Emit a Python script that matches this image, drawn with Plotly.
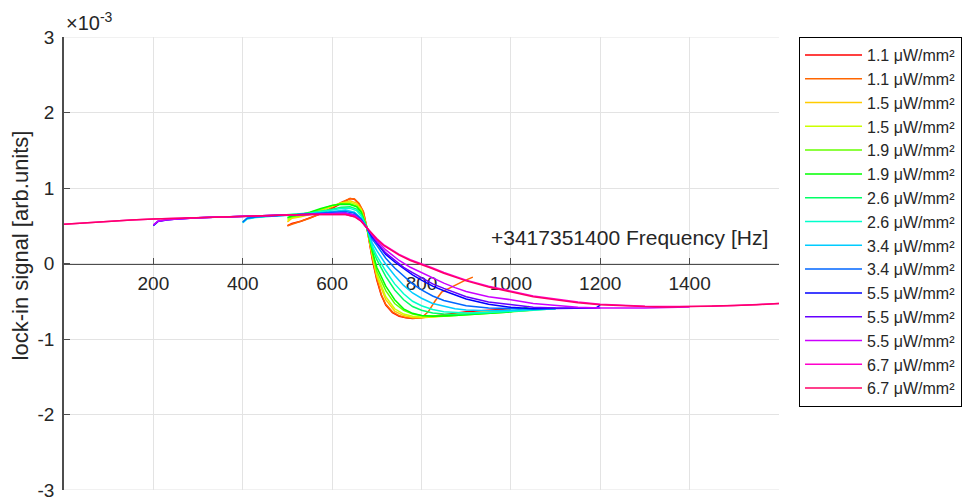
import plotly.graph_objects as go

# Lock-in signal (in units of 1e-3 arb.units) versus frequency offset [Hz]
# for a sequence of laser intensities; two or three sweeps per intensity.
labels = ["1.1 μW/mm²", "1.1 μW/mm²", "1.5 μW/mm²", "1.5 μW/mm²",
          "1.9 μW/mm²", "1.9 μW/mm²", "2.6 μW/mm²", "2.6 μW/mm²",
          "3.4 μW/mm²", "3.4 μW/mm²", "5.5 μW/mm²", "5.5 μW/mm²",
          "5.5 μW/mm²", "6.7 μW/mm²", "6.7 μW/mm²"]

# hsv(15) colour order
colors = ["#ff0000", "#ff6600", "#ffcc00", "#ccff00", "#66ff00",
          "#00ff00", "#00ff66", "#00ffcc", "#00ccff", "#0066ff",
          "#0000ff", "#6600ff", "#cc00ff", "#ff00cc", "#ff0066"]

# sweeps starting at 500 Hz
f_s1 = [500, 510, 530, 550, 575, 600, 620, 640, 650, 660, 670, 678, 690, 700, 710,
        720, 735, 750, 765, 780, 800, 825, 850, 875, 900, 950, 1000]
s_s1 = [0.50, 0.53, 0.56, 0.60, 0.66, 0.73, 0.80, 0.86, 0.85, 0.79, 0.68, 0.47, 0.05,
        -0.22, -0.42, -0.55, -0.65, -0.70, -0.72, -0.73, -0.72, -0.70, -0.68, -0.66,
        -0.64, -0.62, -0.60]

f_s2 = [500, 510, 530, 550, 575, 600, 620, 640, 650, 660, 670, 678, 690, 700, 710,
        720, 735, 750, 765, 780, 800, 815, 830, 845, 870, 895, 915]
s_s2 = [0.50, 0.52, 0.55, 0.60, 0.66, 0.74, 0.81, 0.86, 0.855, 0.80, 0.69, 0.47, 0.07,
        -0.20, -0.41, -0.54, -0.64, -0.69, -0.715, -0.725, -0.72, -0.64, -0.50, -0.38,
        -0.30, -0.23, -0.18]

f_s3 = [500, 510, 530, 550, 575, 600, 620, 640, 655, 665, 678, 690, 700, 720, 740,
        760, 780, 800, 825, 850, 875, 900, 950, 1000]
s_s3 = [0.55, 0.60, 0.62, 0.65, 0.70, 0.76, 0.80, 0.83, 0.80, 0.72, 0.47, 0.10,
        -0.17, -0.48, -0.63, -0.69, -0.715, -0.72, -0.71, -0.69, -0.675, -0.66, -0.64,
        -0.62]

f_s4 = [500, 510, 530, 550, 575, 600, 620, 640, 655, 665, 678, 690, 700, 720, 740,
        760, 780, 800, 825, 850, 875, 900, 950, 1000]
s_s4 = [0.57, 0.61, 0.63, 0.66, 0.71, 0.765, 0.80, 0.81, 0.78, 0.71, 0.47, 0.12,
        -0.14, -0.44, -0.60, -0.67, -0.70, -0.71, -0.71, -0.70, -0.685, -0.67, -0.65,
        -0.63]

f_s5 = [500, 510, 530, 550, 575, 600, 620, 640, 655, 665, 678, 690, 700, 720, 740,
        760, 780, 800, 825, 850, 875, 900, 950, 1000, 1050]
s_s5 = [0.60, 0.62, 0.64, 0.67, 0.72, 0.77, 0.79, 0.79, 0.76, 0.69, 0.47, 0.14,
        -0.10, -0.36, -0.53, -0.62, -0.67, -0.69, -0.70, -0.70, -0.69, -0.68, -0.66,
        -0.64, -0.62]

f_s6 = [500, 510, 530, 550, 575, 600, 620, 640, 655, 665, 678, 690, 700, 720, 740,
        760, 780, 800, 825, 850, 875, 900, 950, 1000, 1020, 1040]
s_s6 = [0.61, 0.63, 0.65, 0.68, 0.73, 0.77, 0.785, 0.78, 0.75, 0.68, 0.47, 0.16,
        -0.05, -0.30, -0.48, -0.60, -0.66, -0.69, -0.70, -0.70, -0.69, -0.68, -0.66,
        -0.64, -0.61, -0.57]

# sweeps starting at 400 Hz
f_s7 = [400, 410, 430, 450, 500, 550, 600, 620, 640, 655, 665, 678, 690, 700, 720,
        740, 760, 780, 800, 825, 850, 875, 900, 950, 1000, 1050, 1100]
s_s7 = [0.55, 0.60, 0.615, 0.625, 0.645, 0.67, 0.72, 0.745, 0.75, 0.72, 0.65, 0.47,
        0.20, 0.05, -0.17, -0.35, -0.48, -0.57, -0.62, -0.655, -0.67, -0.675, -0.67,
        -0.655, -0.635, -0.615, -0.60]

f_s8 = [400, 410, 430, 450, 500, 550, 600, 620, 640, 655, 665, 678, 690, 700, 720,
        740, 760, 780, 800, 825, 850, 875, 900, 950, 1000, 1050, 1100]
s_s8 = [0.54, 0.59, 0.61, 0.62, 0.64, 0.665, 0.71, 0.73, 0.73, 0.70, 0.63, 0.47,
        0.23, 0.10, -0.10, -0.27, -0.40, -0.50, -0.56, -0.61, -0.64, -0.65, -0.655,
        -0.65, -0.63, -0.615, -0.60]

f_s9 = [400, 410, 430, 450, 500, 550, 600, 630, 650, 665, 678, 690, 700, 720, 740,
        760, 780, 800, 825, 850, 875, 900, 950, 1000, 1050, 1100]
s_s9 = [0.54, 0.60, 0.615, 0.625, 0.64, 0.655, 0.69, 0.71, 0.68, 0.60, 0.47, 0.27,
        0.17, -0.01, -0.16, -0.29, -0.39, -0.46, -0.53, -0.57, -0.60, -0.615, -0.625,
        -0.62, -0.61, -0.60]

f_s10 = [400, 410, 430, 450, 500, 550, 600, 630, 650, 665, 678, 690, 700, 720, 740,
         760, 780, 800, 825, 850, 875, 900, 950, 1000, 1050, 1100]
s_s10 = [0.55, 0.60, 0.615, 0.625, 0.64, 0.655, 0.68, 0.69, 0.665, 0.59, 0.47, 0.32,
         0.24, 0.07, -0.06, -0.17, -0.27, -0.35, -0.43, -0.49, -0.53, -0.56, -0.59,
         -0.60, -0.60, -0.59]

# sweeps starting at 200 Hz
f_s11 = [200, 210, 230, 250, 300, 350, 400, 450, 500, 550, 600, 630, 650, 665, 678,
         690, 700, 720, 740, 760, 780, 800, 825, 850, 875, 900, 950, 1000, 1050,
         1100, 1150, 1190, 1200]
s_s11 = [0.50, 0.555, 0.575, 0.59, 0.605, 0.615, 0.625, 0.635, 0.645, 0.655, 0.665,
         0.665, 0.64, 0.57, 0.47, 0.35, 0.27, 0.12, 0.02, -0.07, -0.15, -0.22, -0.30,
         -0.36, -0.42, -0.47, -0.54, -0.58, -0.60, -0.60, -0.60, -0.59, -0.55]

f_s12 = [200, 210, 230, 250, 300, 350, 400, 450, 500, 550, 600, 630, 650, 665, 678,
         690, 700, 720, 740, 760, 780, 800, 825, 850, 875, 900, 950, 1000, 1050,
         1100, 1150, 1200]
s_s12 = [0.51, 0.56, 0.58, 0.59, 0.605, 0.615, 0.625, 0.635, 0.645, 0.655, 0.665,
         0.665, 0.64, 0.57, 0.47, 0.36, 0.28, 0.14, 0.04, -0.05, -0.12, -0.19, -0.27,
         -0.33, -0.39, -0.44, -0.51, -0.55, -0.58, -0.59, -0.595, -0.59]

f_s13 = [200, 210, 230, 250, 300, 350, 400, 450, 500, 550, 600, 630, 650, 665, 678,
         690, 700, 720, 750, 775, 800, 825, 850, 875, 900, 950, 1000, 1050, 1100,
         1150, 1200, 1300, 1400]
s_s13 = [0.51, 0.56, 0.58, 0.59, 0.605, 0.615, 0.625, 0.635, 0.645, 0.655, 0.665,
         0.665, 0.64, 0.57, 0.47, 0.37, 0.30, 0.18, 0.04, -0.05, -0.12, -0.20, -0.26,
         -0.32, -0.37, -0.44, -0.48, -0.53, -0.56, -0.58, -0.59, -0.59, -0.575]

# sweeps starting at 0 Hz
f_s14 = [0, 50, 100, 150, 200, 250, 300, 350, 400, 450, 500, 550, 600, 630, 650,
         665, 678, 690, 700, 715, 730, 750, 775, 800, 825, 850, 875, 900, 950, 1000,
         1050, 1100, 1150, 1200, 1250, 1300, 1350, 1400, 1450, 1500, 1550, 1600]
s_s14 = [0.52, 0.54, 0.56, 0.575, 0.59, 0.60, 0.61, 0.62, 0.63, 0.637, 0.643, 0.65,
         0.655, 0.65, 0.62, 0.56, 0.47, 0.39, 0.33, 0.25, 0.19, 0.12, 0.05, 0.0,
         -0.06, -0.12, -0.17, -0.22, -0.30, -0.37, -0.43, -0.47, -0.51, -0.54, -0.555,
         -0.565, -0.57, -0.57, -0.565, -0.555, -0.545, -0.53]

f_s15 = [0, 50, 100, 150, 200, 250, 300, 350, 400, 450, 500, 550, 600, 630, 650,
         665, 678, 690, 700, 715, 730, 750, 775, 800, 825, 850, 875, 900, 950, 1000,
         1050, 1100, 1150, 1200, 1250, 1300, 1350, 1400, 1450, 1500, 1550, 1600]
s_s15 = [0.52, 0.54, 0.56, 0.575, 0.59, 0.60, 0.61, 0.62, 0.63, 0.637, 0.643, 0.65,
         0.655, 0.65, 0.62, 0.56, 0.47, 0.38, 0.32, 0.24, 0.18, 0.11, 0.04, -0.01,
         -0.07, -0.13, -0.18, -0.23, -0.31, -0.38, -0.44, -0.48, -0.52, -0.545, -0.56,
         -0.57, -0.575, -0.57, -0.565, -0.555, -0.545, -0.53]

freqs = [f_s1, f_s2, f_s3, f_s4, f_s5, f_s6, f_s7, f_s8, f_s9, f_s10,
         f_s11, f_s12, f_s13, f_s14, f_s15]
signals = [s_s1, s_s2, s_s3, s_s4, s_s5, s_s6, s_s7, s_s8, s_s9, s_s10,
           s_s11, s_s12, s_s13, s_s14, s_s15]

x_ticks = [200, 400, 600, 800, 1000, 1200, 1400, 1600]
x_ticktext = ["200", "400", "600", "800", "1000", "1200", "1400", ""]
y_ticks = [-3, -2, -1, 0, 1, 2, 3]
y_ticktext = ["-3", "-2", "-1", "0", "1", "2", "3"]
Y_MIN, Y_MAX = -3, 3

FONT = "Liberation Sans, Arial, Helvetica, sans-serif"
TXT = "#262626"
AX = "#4d4d4d"
GRID = "#e3e3e3"

fig = go.Figure()
for f, s, name, c in zip(freqs, signals, labels, colors):
    fig.add_trace(go.Scatter(x=f, y=s, mode="lines", name=name,
                             line=dict(color=c, width=1.5)))

fig.update_layout(
    width=967, height=500,
    margin=dict(l=64, r=188, t=37, b=10, autoexpand=False),
    paper_bgcolor="white", plot_bgcolor="white",
    font=dict(family=FONT, color=TXT, size=19),
    showlegend=True,
    legend=dict(x=1.028, y=1, xanchor="left", yanchor="top",
                bordercolor="#000000", borderwidth=1, bgcolor="white",
                font=dict(family=FONT, size=16, color=TXT),
                itemwidth=57, tracegroupgap=0),
    xaxis=dict(range=[0, 1600], anchor="free", position=0.5,
               tickvals=x_ticks, ticktext=x_ticktext,
               ticks="inside", ticklen=6, tickcolor=AX,
               showline=True, linecolor=AX, linewidth=1,
               showgrid=True, gridcolor=GRID, zeroline=False,
               tickfont=dict(size=19, color=TXT), ticklabelstandoff=3,
               layer="below traces", automargin=False),
    yaxis=dict(range=[Y_MIN, Y_MAX], tickvals=y_ticks, ticktext=y_ticktext,
               ticks="inside", ticklen=6, tickcolor=AX,
               showline=True, linecolor=AX, linewidth=1.5,
               showgrid=True, gridcolor=GRID, zeroline=False,
               ticklabeloverflow="allow", automargin=False,
               tickfont=dict(size=19, color=TXT), ticklabelstandoff=4),
)

# grid lines along the upper and lower limits of the signal axis
for yv in (Y_MIN, Y_MAX):
    fig.add_shape(type="line", xref="paper", yref="y", x0=0, x1=1, y0=yv, y1=yv,
                  line=dict(color=GRID, width=1), layer="below")

fig.add_annotation(text="lock-in signal [arb.units]", xref="paper", yref="paper",
                   x=-0.0615, y=0.54, xanchor="center", yanchor="middle",
                   textangle=-90, showarrow=False, font=dict(size=22, color=TXT))
fig.add_annotation(text="×10<sup>-3</sup>", xref="paper", yref="paper",
                   x=0, y=1, xanchor="left", yanchor="bottom", showarrow=False,
                   yshift=1, font=dict(size=20, color=TXT))
fig.add_annotation(text="+3417351400 Frequency [Hz]", xref="paper", yref="y",
                   x=0.987, y=0.17, xanchor="right", yanchor="bottom",
                   showarrow=False, font=dict(size=21, color=TXT))

fig.write_html("out.html")
